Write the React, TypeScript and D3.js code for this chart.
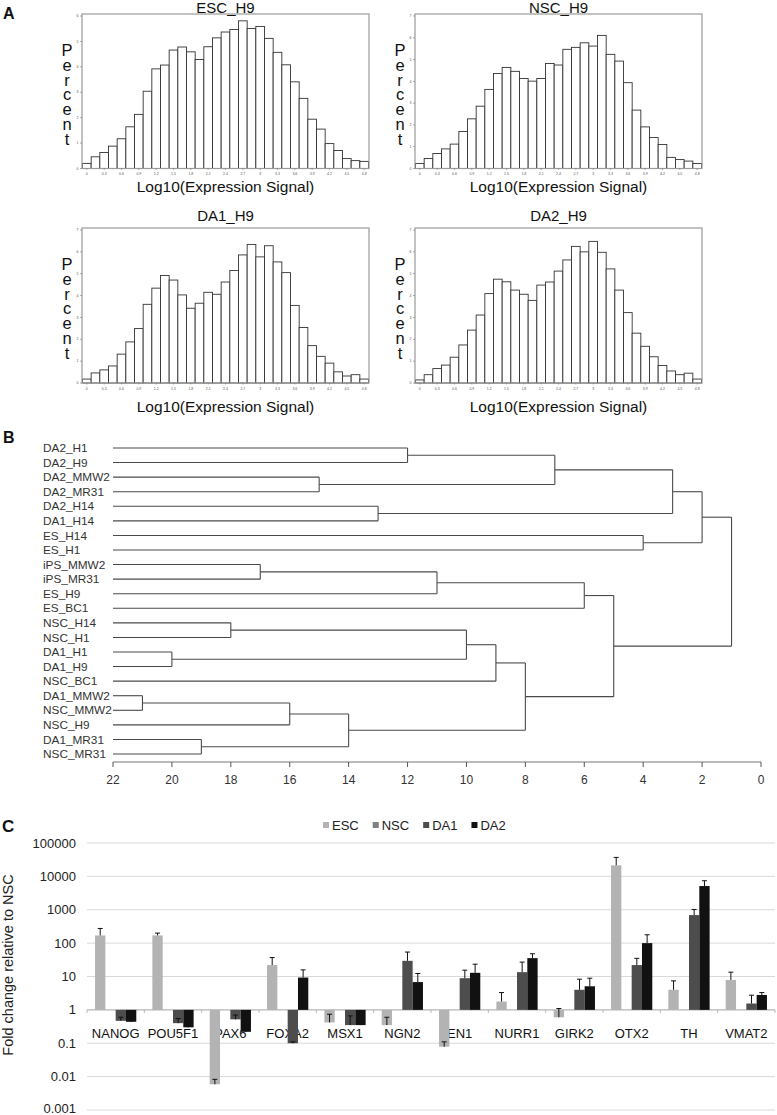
import React from 'react';
import * as d3 from 'd3';

const FONT = '"Liberation Sans", Arial, Helvetica, sans-serif';

// ---------- Panel A : histograms ----------
const histTickLabels = ['0', '0.3', '0.6', '0.9', '1.2', '1.5', '1.8', '2.1', '2.4', '2.7', '3', '3.3', '3.6', '3.9', '4.2', '4.5', '4.8'];
const binCenters = [0, 0.15, 0.3, 0.45, 0.6, 0.75, 0.9, 1.05, 1.2, 1.35, 1.5, 1.65, 1.8, 1.95, 2.1, 2.25, 2.4, 2.55, 2.7, 2.85, 3.0, 3.15, 3.3, 3.45, 3.6, 3.75, 3.9, 4.05, 4.2, 4.35, 4.5, 4.65, 4.8];
const escH9 = [0.2, 0.46, 0.63, 0.88, 1.17, 1.64, 2.13, 3.04, 3.92, 4.07, 4.66, 4.78, 4.59, 4.29, 4.79, 5.14, 5.37, 5.47, 5.81, 5.51, 5.59, 5.12, 4.57, 4.08, 3.41, 2.76, 1.94, 1.55, 0.98, 0.71, 0.39, 0.31, 0.28];
const nscH9 = [0.23, 0.46, 0.69, 0.9, 1.12, 1.7, 2.28, 2.86, 3.63, 4.36, 4.64, 4.46, 4.13, 4.01, 4.13, 4.82, 4.75, 5.47, 5.56, 5.77, 5.62, 6.11, 5.24, 4.93, 3.94, 2.68, 1.91, 1.42, 1.1, 0.51, 0.41, 0.34, 0.23];
const da1H9 = [0.18, 0.46, 0.6, 0.78, 1.32, 1.88, 2.49, 3.6, 4.34, 4.92, 4.71, 4.03, 3.42, 3.65, 4.15, 4.06, 4.62, 5.15, 5.86, 6.34, 5.77, 6.28, 5.54, 5.05, 3.55, 2.54, 1.71, 1.22, 0.91, 0.51, 0.32, 0.38, 0.18];
const da2H9 = [0.14, 0.38, 0.66, 0.82, 1.18, 1.74, 2.42, 3.11, 4.09, 4.75, 4.63, 4.25, 4.06, 3.78, 4.48, 4.62, 5.12, 5.63, 6.25, 6.0, 6.48, 5.98, 5.22, 4.25, 3.22, 2.28, 1.68, 1.2, 0.8, 0.55, 0.38, 0.45, 0.18];
const histTitles = ['ESC_H9', 'NSC_H9', 'DA1_H9', 'DA2_H9'];
const histYMax = [6, 7, 7, 7];

// ---------- Panel B : dendrogram ----------
const leaves = ['DA2_H1', 'DA2_H9', 'DA2_MMW2', 'DA2_MR31', 'DA2_H14', 'DA1_H14', 'ES_H14', 'ES_H1', 'iPS_MMW2', 'iPS_MR31', 'ES_H9', 'ES_BC1', 'NSC_H14', 'NSC_H1', 'DA1_H1', 'DA1_H9', 'NSC_BC1', 'DA1_MMW2', 'NSC_MMW2', 'NSC_H9', 'DA1_MR31', 'NSC_MR31'];
const mergeIds = ['m1', 'm2', 'm3', 'm4', 'm5', 'm6', 'm7', 'm8', 'm9', 'm10', 'm11', 'm12', 'm13', 'm14', 'm15', 'm16', 'm17', 'm18', 'm19', 'm20', 'm21'];
const mergeLeft = ['DA2_H1', 'DA2_MMW2', 'm1', 'DA2_H14', 'm3', 'ES_H14', 'm5', 'iPS_MMW2', 'm8', 'm9', 'NSC_H14', 'DA1_H1', 'm11', 'm13', 'DA1_MMW2', 'm15', 'DA1_MR31', 'm16', 'm14', 'm10', 'm7'];
const mergeRight = ['DA2_H9', 'DA2_MR31', 'm2', 'DA1_H14', 'm4', 'ES_H1', 'm6', 'iPS_MR31', 'ES_H9', 'ES_BC1', 'NSC_H1', 'DA1_H9', 'm12', 'NSC_BC1', 'NSC_MMW2', 'NSC_H9', 'NSC_MR31', 'm17', 'm18', 'm19', 'm20'];
const mergeHeight = [12, 15, 7, 13, 3, 4, 2, 17, 11, 6, 18, 20, 10, 9, 21, 16, 19, 14, 8, 5, 1];
const dendroTicks = [22, 20, 18, 16, 14, 12, 10, 8, 6, 4, 2, 0];
const LEAF_HEIGHT = 22;

// ---------- Panel C : fold change ----------
const genes = ['NANOG', 'POU5F1', 'PAX6', 'FOXA2', 'MSX1', 'NGN2', 'EN1', 'NURR1', 'GIRK2', 'OTX2', 'TH', 'VMAT2'];
const seriesNames = ['ESC', 'NSC', 'DA1', 'DA2'];
const escFold = [170, 170, 0.0059, 22, 0.42, 0.35, 0.079, 1.78, 0.6, 21400, 4.0, 7.9];
const escErr = [275, 200, 0.0083, 37, 0.74, 0.6, 0.11, 3.3, 1.1, 37000, 7.4, 13.5];
const nscFold = [1, 1, 1, 1, 1, 1, 1, 1, 1, 1, 1, 1];
const da1Fold = [0.47, 0.4, 0.52, 0.1, 0.35, 29.5, 8.9, 13.5, 4.0, 22, 692, 1.55];
const da1Err = [0.6, 0.55, 0.7, 0.11, 0.66, 54, 15.5, 27, 8.3, 35, 1020, 2.75];
const da2Fold = [0.44, 0.3, 0.22, 9.3, 0.35, 6.8, 12.9, 35.5, 5.1, 100, 5130, 2.8];
const da2Err = [0.47, 0.33, 0.25, 15.8, 0.37, 12.3, 23.4, 48, 8.9, 178, 7400, 3.3];
const foldTicks = [100000, 10000, 1000, 100, 10, 1, 0.1, 0.01, 0.001];
const seriesColors = ['#b3b3b3', '#7f7f7f', '#4d4d4d', '#111111'];

function measure(text: string, font: string): number {
  const c = document.createElement('canvas').getContext('2d');
  if (!c) return text.length * 7;
  c.font = font;
  return c.measureText(text).width;
}

function Histogram({ values, title, yMax, x0, y0, x1, y1, titleY, labelY }: any) {
  const x = d3.scaleLinear().domain([-0.075, 4.875]).range([x0 + 0.5, x1 - 0.5]);
  const y = d3.scaleLinear().domain([0, yMax]).range([y1, y0 + 2]);
  const yTicks = d3.range(0, yMax + 1);
  const bw = x(0.15) - x(0);
  const cx = (x0 + x1) / 2;
  return (
    <g>
      <text x={cx} y={titleY} textAnchor="middle" fontSize={15} fill="#111">{title}</text>
      {binCenters.map((c, i) => (
        <rect key={i} x={x(c) - bw / 2} y={y(values[i])} width={bw} height={y(0) - y(values[i])}
          fill="#fff" stroke="#333" strokeWidth={0.9} />
      ))}
      <rect x={x0} y={y0} width={x1 - x0} height={y1 - y0} fill="none" stroke="#9a9a9a" strokeWidth={1.2} />
      {yTicks.map((t) => (
        <g key={t}>
          <line x1={x0 - 2} x2={x0} y1={y(t)} y2={y(t)} stroke="#777" strokeWidth={0.6} />
          <text x={x0 - 3.5} y={y(t) + 1.2} fontSize={3.5} textAnchor="end" fill="#555">{t}</text>
        </g>
      ))}
      {histTickLabels.map((t) => (
        <g key={t}>
          <line x1={x(+t)} x2={x(+t)} y1={y1} y2={y1 + 1.5} stroke="#777" strokeWidth={0.6} />
          <text x={x(+t)} y={y1 + 6.5} fontSize={3.5} textAnchor="middle" fill="#555">{t}</text>
        </g>
      ))}
      <text x={x0 - 15} y={y0 + 42} fontSize={16.5} textAnchor="middle" fill="#111">
        {'Percent'.split('').map((ch, i) => (
          <tspan key={i} x={x0 - 15} dy={i === 0 ? 0 : 14.8}>{ch}</tspan>
        ))}
      </text>
      {labelY ? (
        <text x={cx} y={labelY} textAnchor="middle" fontSize={15.5} fill="#111">Log10(Expression Signal)</text>
      ) : null}
    </g>
  );
}

function Dendrogram() {
  const x = d3.scaleLinear().domain([22, 0]).range([113, 761]);
  const y = d3.scalePoint<string>().domain(leaves).range([448, 754]);
  const pos: Record<string, { x: number; y: number }> = {};
  leaves.forEach((l) => { pos[l] = { x: x(LEAF_HEIGHT), y: y(l) as number }; });
  const segs: { x1: number; y1: number; x2: number; y2: number }[] = [];
  mergeIds.forEach((id, i) => {
    const a = pos[mergeLeft[i]];
    const b = pos[mergeRight[i]];
    const nx = x(mergeHeight[i]);
    segs.push({ x1: a.x, y1: a.y, x2: nx, y2: a.y });
    segs.push({ x1: b.x, y1: b.y, x2: nx, y2: b.y });
    segs.push({ x1: nx, y1: a.y, x2: nx, y2: b.y });
    pos[id] = { x: nx, y: (a.y + b.y) / 2 };
  });
  const axisY = 762;
  return (
    <g>
      {leaves.map((l) => (
        <text key={l} x={43} y={y(l) as number} dy="0.35em" fontSize={11.8} fill="#333">{l}</text>
      ))}
      {segs.map((s, i) => (
        <line key={i} x1={s.x1} y1={s.y1} x2={s.x2} y2={s.y2} stroke="#4a4a4a" strokeWidth={1.1} />
      ))}
      <line x1={x(22)} x2={x(0)} y1={axisY} y2={axisY} stroke="#777" strokeWidth={1.1} />
      {dendroTicks.map((t) => (
        <g key={t}>
          <line x1={x(t)} x2={x(t)} y1={axisY} y2={axisY + 5} stroke="#555" strokeWidth={1} />
          <text x={x(t)} y={784} textAnchor="middle" fontSize={12} fill="#333">{t}</text>
        </g>
      ))}
    </g>
  );
}

function FoldChart() {
  const x = d3.scaleBand<string>().domain(genes).range([87, 775]);
  const inner = d3.scaleBand<string>().domain(seriesNames).range([0, x.bandwidth()]).paddingOuter(0.78);
  const y = d3.scaleLog().domain([0.001, 100000]).range([1110, 843]);
  const series = [
    { name: 'ESC', vals: escFold, errs: escErr as (number | null)[] },
    { name: 'NSC', vals: nscFold, errs: nscFold.map(() => null) as (number | null)[] },
    { name: 'DA1', vals: da1Fold, errs: da1Err as (number | null)[] },
    { name: 'DA2', vals: da2Fold, errs: da2Err as (number | null)[] },
  ];
  const y1 = y(1);
  const bw = inner.bandwidth();
  const lf = `13px ${FONT}`;
  let lx = 323;
  const legendItems = seriesNames.map((n, i) => {
    const item = { n, x: lx, color: seriesColors[i] };
    lx += 6 + 3 + measure(n, lf) + 14;
    return item;
  });
  const boundaries = genes.map((g) => x(g) as number).concat([775]);
  return (
    <g>
      {foldTicks.map((t) => (
        <g key={t}>
          <line x1={87} x2={775} y1={y(t)} y2={y(t)} stroke="#d9d9d9" strokeWidth={1} />
          <text x={76} y={y(t)} dy={t === 0.001 ? '0.2em' : '0.35em'} textAnchor="end" fontSize={13} fill="#222">{String(t)}</text>
        </g>
      ))}
      <line x1={87} x2={775} y1={y1} y2={y1} stroke="#b5b5b5" strokeWidth={1} />
      {boundaries.map((b, i) => (
        <line key={i} x1={b} x2={b} y1={y1} y2={y1 + 3} stroke="#b5b5b5" strokeWidth={1} />
      ))}
      {genes.map((g) => (
        <text key={g} x={(x(g) as number) + x.bandwidth() / 2} y={1033} dy="0.35em" textAnchor="middle" fontSize={13} fill="#111">{g}</text>
      ))}
      {series.map((s, si) => (
        <g key={s.name}>
          {genes.map((g, gi) => {
            const v = s.vals[gi];
            if (v === 1) return null;
            const bx = (x(g) as number) + (inner(s.name) as number);
            const yv = y(v);
            return (
              <rect key={g} x={bx} y={Math.min(yv, y1)} width={bw} height={Math.abs(y1 - yv)} fill={seriesColors[si]} />
            );
          })}
        </g>
      ))}
      {series.map((s) => (
        <g key={s.name + 'e'}>
          {genes.map((g, gi) => {
            const e = s.errs[gi];
            if (e == null) return null;
            const cx = (x(g) as number) + (inner(s.name) as number) + bw / 2;
            const yv = y(s.vals[gi]);
            const ye = y(e);
            return (
              <g key={g}>
                <line x1={cx} x2={cx} y1={yv} y2={ye} stroke="#111" strokeWidth={1} />
                <line x1={cx - 2.5} x2={cx + 2.5} y1={ye} y2={ye} stroke="#111" strokeWidth={1} />
              </g>
            );
          })}
        </g>
      ))}
      {legendItems.map((it) => (
        <g key={it.n}>
          <rect x={it.x} y={822} width={6} height={6} fill={it.color} />
          <text x={it.x + 9} y={825} dy="0.35em" fontSize={13} fill="#222">{it.n}</text>
        </g>
      ))}
      <text transform="translate(13,965) rotate(-90)" textAnchor="middle" fontSize={14.5} fill="#222">Fold change relative to NSC</text>
    </g>
  );
}

export default function App() {
  const boxes = [
    { x0: 82, y0: 14, x1: 369, y1: 168.5, titleY: 13, labelY: 192 },
    { x0: 415, y0: 14, x1: 702, y1: 168.5, titleY: 13, labelY: 192 },
    { x0: 82, y0: 228, x1: 369, y1: 383, titleY: 221, labelY: 412 },
    { x0: 415, y0: 228, x1: 702, y1: 383, titleY: 221, labelY: 412 },
  ];
  const data = [escH9, nscH9, da1H9, da2H9];
  return (
    <svg width={777} height={1115} style={{ position: 'absolute', left: 0, top: 0, background: '#fff' }}
      fontFamily={FONT}>
      <rect x={0} y={0} width={777} height={1115} fill="#fff" />
      <text x={3} y={19} fontSize={16} fontWeight="bold" fill="#111">A</text>
      <text x={3} y={443} fontSize={16} fontWeight="bold" fill="#111">B</text>
      <text x={2} y={832} fontSize={17} fontWeight="bold" fill="#111">C</text>
      {boxes.map((b, i) => (
        <Histogram key={i} values={data[i]} title={histTitles[i]} yMax={histYMax[i]} {...b} />
      ))}
      <Dendrogram />
      <FoldChart />
    </svg>
  );
}
